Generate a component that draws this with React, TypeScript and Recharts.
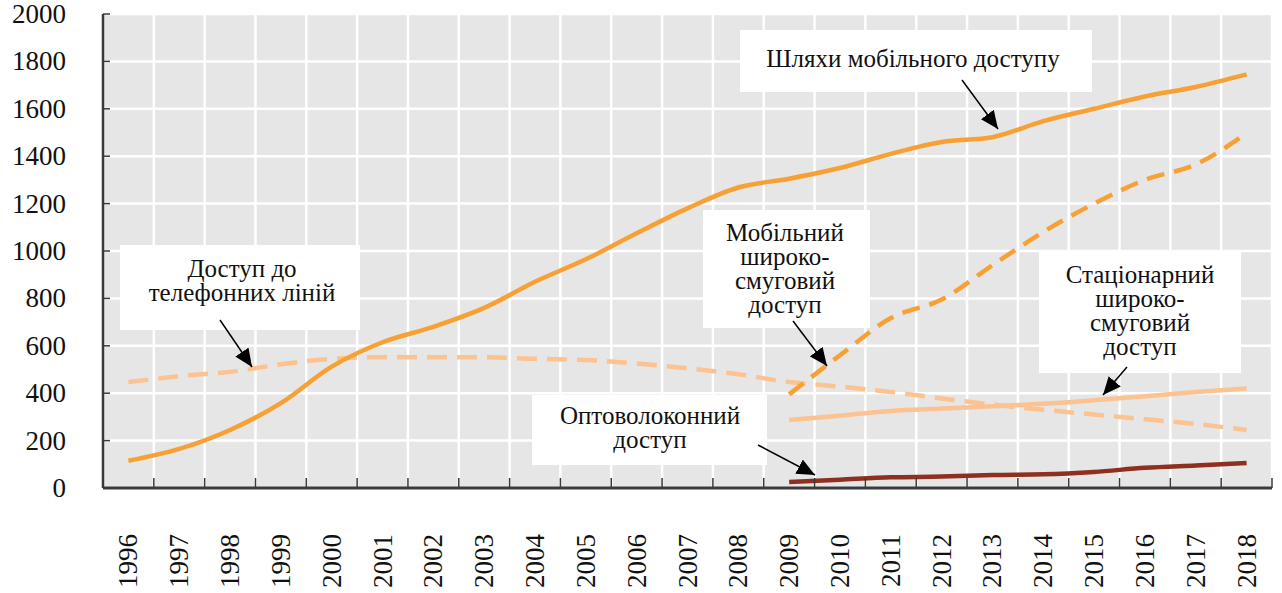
import { CartesianGrid, Line, LineChart, XAxis, YAxis } from "recharts";

const YEARS = [
  1996, 1997, 1998, 1999, 2000, 2001, 2002, 2003, 2004, 2005, 2006, 2007,
  2008, 2009, 2010, 2011, 2012, 2013, 2014, 2015, 2016, 2017, 2018,
];

const MOBILE = [
  115, 165, 245, 358, 512, 615, 680, 760, 870, 965, 1075, 1180, 1268, 1305,
  1350, 1410, 1460, 1480, 1548, 1600, 1652, 1692, 1745,
];
const PHONE = [
  447, 472, 490, 522, 545, 552, 552, 552, 545, 540, 525, 505, 480, 447, 428,
  405, 378, 352, 330, 310, 290, 270, 245,
];
// series starting in 2009
const MOBILE_BB = [395, 560, 717, 795, 940, 1080, 1200, 1300, 1365, 1497];
const FIXED_BB = [287, 305, 325, 335, 345, 355, 370, 387, 405, 420];
const FIBRE = [25, 35, 45, 48, 55, 58, 68, 85, 95, 105];

const Y_TICKS = [0, 200, 400, 600, 800, 1000, 1200, 1400, 1600, 1800, 2000];
const X_GRID = YEARS.map((y) => y - 0.5).concat([2018.5]);

const data = YEARS.map((year, i) => {
  const j = i - 13;
  return {
    year,
    mobile: MOBILE[i],
    phone: PHONE[i],
    mobileBb: j >= 0 ? MOBILE_BB[j] : undefined,
    fixedBb: j >= 0 ? FIXED_BB[j] : undefined,
    fibre: j >= 0 ? FIBRE[j] : undefined,
  };
});

const FONT = "'Liberation Serif', 'Times New Roman', serif";
const BAND = 1169 / 23;
const AXIS = "#3a3a3a";

function YearTick(props: any) {
  const { x, y, payload } = props;
  const year = payload.value + 0.5;
  return (
    <g>
      <line x1={x} x2={x} y1={y} y2={y - 10} stroke={AXIS} strokeWidth={1.5} />
      {year <= 2018 && (
        <text
          transform={`translate(${x + BAND / 2},${y + 46}) rotate(-90)`}
          textAnchor="end"
          dominantBaseline="central"
          fontFamily={FONT}
          fontSize={27}
          fill="#111"
        >
          {year}
        </text>
      )}
    </g>
  );
}

function ValueTick(props: any) {
  const { x, y, payload } = props;
  return (
    <g>
      <line x1={x} x2={x + 7} y1={y} y2={y} stroke={AXIS} strokeWidth={1.5} />
      <text
        x={x - 37}
        y={y}
        textAnchor="end"
        dominantBaseline="central"
        fontFamily={FONT}
        fontSize={27}
        fill="#111"
      >
        {payload.value}
      </text>
    </g>
  );
}

type Note = {
  box: [number, number, number, number];
  lines: string[];
  base: number;
  cx: number;
  arrow: [number, number, number, number];
};

const NOTES: Note[] = [
  {
    box: [120, 245, 240, 85],
    lines: ["Доступ до", "телефонних ліній"],
    base: 277,
    cx: 242,
    arrow: [220, 320, 252, 367],
  },
  {
    box: [740, 30, 352, 62],
    lines: ["Шляхи мобільного доступу"],
    base: 67,
    cx: 913,
    arrow: [962, 80, 998, 129],
  },
  {
    box: [703, 210, 167, 118],
    lines: ["Мобільний", "широко-", "смуговий", "доступ"],
    base: 241,
    cx: 785,
    arrow: [793, 321, 827, 366],
  },
  {
    box: [1039, 250, 202, 123],
    lines: ["Стаціонарний", "широко-", "смуговий", "доступ"],
    base: 283,
    cx: 1140,
    arrow: [1127, 367, 1103, 395],
  },
  {
    box: [532, 395, 235, 70],
    lines: ["Оптоволоконний", "доступ"],
    base: 424,
    cx: 650,
    arrow: [758, 445, 815, 475],
  },
];

function Notes() {
  return (
    <svg
      width={1282}
      height={593}
      style={{ position: "absolute", left: 0, top: 0, pointerEvents: "none" }}
    >
      <defs>
        <marker
          id="head"
          markerUnits="userSpaceOnUse"
          markerWidth={19}
          markerHeight={16}
          refX={18}
          refY={8}
          orient="auto"
        >
          <path d="M0,0 L18,8 L0,16 Z" fill="#000" />
        </marker>
      </defs>
      {NOTES.map((n, i) => (
        <g key={i}>
          <rect x={n.box[0]} y={n.box[1]} width={n.box[2]} height={n.box[3]} fill="#fff" />
          {n.lines.map((t, k) => (
            <text
              key={k}
              x={n.cx}
              y={n.base + k * 24}
              textAnchor="middle"
              fontFamily={FONT}
              fontSize={25}
              fill="#111"
            >
              {t}
            </text>
          ))}
          <line
            x1={n.arrow[0]}
            y1={n.arrow[1]}
            x2={n.arrow[2]}
            y2={n.arrow[3]}
            stroke="#000"
            strokeWidth={1.5}
            markerEnd="url(#head)"
          />
        </g>
      ))}
    </svg>
  );
}

export default function App() {
  return (
    <div style={{ position: "absolute", left: 0, top: 0, width: 1282, height: 593, background: "#fff" }}>
      <LineChart
        width={1282}
        height={593}
        data={data}
        margin={{ top: 14, right: 10, left: 0, bottom: 0 }}
      >
        <CartesianGrid
          fill="#e6e6e6"
          stroke="#fff"
          strokeWidth={2.5}
          horizontalValues={Y_TICKS}
          verticalValues={X_GRID}
        />
        <XAxis
          dataKey="year"
          type="number"
          domain={[1995.5, 2018.5]}
          ticks={X_GRID}
          interval={0}
          height={105}
          tickSize={0}
          tickMargin={0}
          tick={<YearTick />}
          axisLine={{ stroke: AXIS, strokeWidth: 3 }}
          tickLine={false}
        />
        <YAxis
          type="number"
          domain={[0, 2000]}
          ticks={Y_TICKS}
          interval={0}
          width={103}
          tickSize={0}
          tickMargin={0}
          tick={<ValueTick />}
          axisLine={{ stroke: AXIS, strokeWidth: 2.5 }}
          tickLine={false}
        />
        <Line dataKey="phone" type="monotone" stroke="#fcc290" strokeWidth={4.5} strokeDasharray="20 10" dot={false} isAnimationActive={false} />
        <Line dataKey="fixedBb" type="monotone" stroke="#fcc290" strokeWidth={4.5} dot={false} isAnimationActive={false} />
        <Line dataKey="mobile" type="monotone" stroke="#f7a035" strokeWidth={4.5} dot={false} isAnimationActive={false} />
        <Line dataKey="mobileBb" type="monotone" stroke="#f7a035" strokeWidth={4.5} strokeDasharray="18 10" dot={false} isAnimationActive={false} />
        <Line dataKey="fibre" type="monotone" stroke="#8e2f20" strokeWidth={4.5} dot={false} isAnimationActive={false} />
      </LineChart>
      <Notes />
    </div>
  );
}
